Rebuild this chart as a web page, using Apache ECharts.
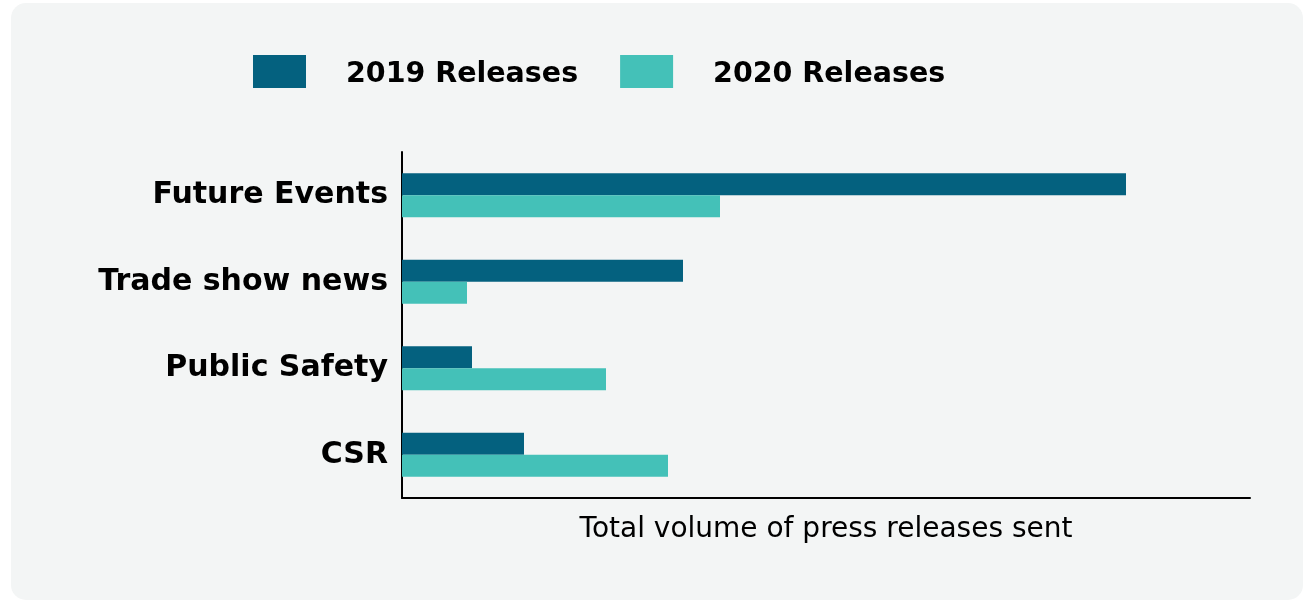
<!DOCTYPE html>
<html>
<head>
<meta charset="utf-8">
<script src="https://cdn.jsdelivr.net/npm/echarts@6/dist/echarts.min.js"></script>
<style>
  html, body { margin: 0; padding: 0; background: #ffffff; }
  #chart { width: 1308px; height: 600px; }
</style>
</head>
<body>
<div id="chart"></div>
<script>
// Release categories, listed top to bottom
const categories = ['Future Events', 'Trade show news', 'Public Safety', 'CSR'];
// Press release volume per category
const releases2019 = [724, 281, 70, 122];
const releases2020 = [318, 65, 204, 266];
const seriesNames = ['2019 Releases', '2020 Releases'];
const axisTitle = 'Total volume of press releases sent';

const FONT = '"DejaVu Sans", Inter, sans-serif';
const DARK = '#04617f';
const TEAL = '#44c1b8';

const chart = echarts.init(document.getElementById('chart'), null, { renderer: 'canvas' });

chart.setOption({
  backgroundColor: '#ffffff',
  animation: false,
  graphic: [{
    type: 'rect',
    z: -10,
    silent: true,
    shape: { x: 11, y: 3, width: 1292, height: 597, r: 15 },
    style: { fill: '#f3f5f5' }
  }],
  legend: {
    left: 253,
    top: 55,
    padding: 0,
    icon: 'rect',
    itemWidth: 53,
    itemHeight: 33,
    itemGap: 42,
    formatter: '{t|{name}}',
    textStyle: {
      fontFamily: FONT,
      fontWeight: 700,
      fontSize: 28.5,
      color: '#000000',
      padding: [0, 0, 0, 35],
      rich: {
        t: {
          fontFamily: FONT,
          fontWeight: 700,
          fontSize: 28.5,
          color: '#000000',
          padding: [6, 0, 0, 0]
        }
      }
    },
    data: seriesNames
  },
  grid: { left: 402, right: 58, top: 152, bottom: 102, containLabel: false },
  xAxis: {
    type: 'value',
    min: 0,
    max: 848,
    name: axisTitle,
    nameLocation: 'middle',
    nameGap: 18,
    nameTextStyle: { fontFamily: FONT, fontSize: 28, color: '#000000' },
    axisLine: { show: true, lineStyle: { color: '#000000', width: 2 } },
    axisTick: { show: false },
    axisLabel: { show: false },
    splitLine: { show: false }
  },
  yAxis: {
    type: 'category',
    inverse: true,
    data: categories,
    axisLine: { show: true, lineStyle: { color: '#000000', width: 2 } },
    axisTick: { show: false },
    axisLabel: {
      fontFamily: FONT,
      fontWeight: 700,
      fontSize: 30,
      color: '#000000',
      margin: 14
    }
  },
  series: [
    {
      name: seriesNames[0],
      type: 'bar',
      data: releases2019,
      barWidth: 22,
      barGap: '0%',
      itemStyle: { color: DARK }
    },
    {
      name: seriesNames[1],
      type: 'bar',
      data: releases2020,
      barWidth: 22,
      barGap: '0%',
      itemStyle: { color: TEAL }
    }
  ]
});
</script>
</body>
</html>
